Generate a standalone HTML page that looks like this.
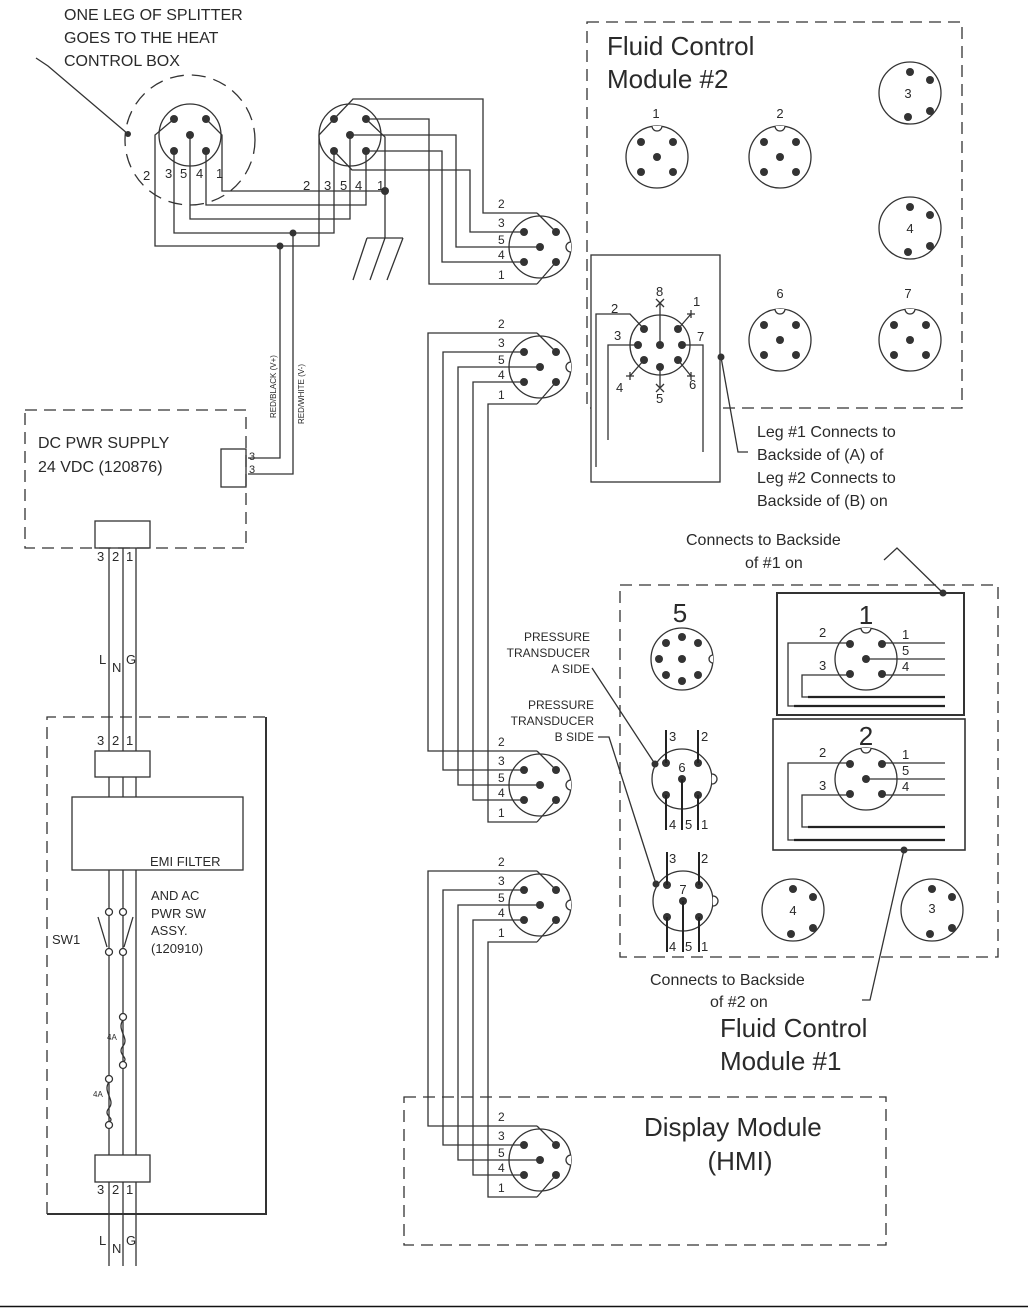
<!DOCTYPE html>
<html><head><meta charset="utf-8"><style>
html,body{margin:0;padding:0;background:#fff}
svg{display:block}
text{font-family:"Liberation Sans",sans-serif;fill:#2a2a2a}
</style></head><body>
<svg width="1028" height="1308" viewBox="0 0 1028 1308" xmlns="http://www.w3.org/2000/svg">
<defs>
<g id="sc">
<circle r="31" fill="none" stroke="#333" stroke-width="1.3"/>
<path d="M31,-5 A5,5 0 0 0 31,5" fill="#fff" stroke="#333" stroke-width="1.3"/>
<circle cx="-16" cy="-15" r="4" fill="#333"/><circle cx="16" cy="-15" r="4" fill="#333"/>
<circle cx="0" cy="0" r="4" fill="#333"/><circle cx="-16" cy="15" r="4" fill="#333"/><circle cx="16" cy="15" r="4" fill="#333"/>
<path d="M-3,-34 L16,-15 M-3,37 L16,15" stroke="#333" stroke-width="1.3" fill="none"/>
</g>
<g id="fc">
<circle r="31" fill="none" stroke="#333" stroke-width="1.3"/>
<path d="M-5,-31 A5,5 0 0 0 5,-31" fill="#fff" stroke="#333" stroke-width="1.3"/>
<circle cx="-16" cy="-15" r="4" fill="#333"/><circle cx="16" cy="-15" r="4" fill="#333"/>
<circle cx="0" cy="0" r="4" fill="#333"/><circle cx="-16" cy="15" r="4" fill="#333"/><circle cx="16" cy="15" r="4" fill="#333"/>
</g>
<g id="rc">
<circle r="31" fill="none" stroke="#333" stroke-width="1.3"/>
<circle cx="0" cy="-21" r="4" fill="#333"/><circle cx="20" cy="-13" r="4" fill="#333"/>
<circle cx="20" cy="18" r="4" fill="#333"/><circle cx="-2" cy="24" r="4" fill="#333"/>
</g>
<g id="tc">
<circle r="30" fill="none" stroke="#333" stroke-width="1.3"/>
<path d="M30,-5 A5,5 0 0 1 30,5" fill="#fff" stroke="#333" stroke-width="1.3"/>
<circle cx="-16" cy="-16" r="4" fill="#333"/><circle cx="16" cy="-16" r="4" fill="#333"/>
<circle cx="0" cy="0" r="4" fill="#333"/><circle cx="-16" cy="16" r="4" fill="#333"/><circle cx="16" cy="16" r="4" fill="#333"/>
<path d="M-16,-16 V-49 M16,-16 V-49 M-16,16 V51 M0,0 V51 M16,16 V51" stroke="#222" stroke-width="2" fill="none"/>
</g>
</defs>

<g stroke="#333" stroke-width="1.3" fill="none">
<circle cx="190" cy="135" r="31"/>
<circle cx="190" cy="140" r="65" stroke-dasharray="14 8"/>
<path d="M36,58 L48,66 L128,134"/>
<circle cx="350" cy="135" r="31"/>
<path d="M334,119 L319,135 V246 H155 V135 L174,119"/>
<path d="M334,151 V233 H174 V151"/>
<path d="M350,135 V219 H190 V135"/>
<path d="M366,151 V205 H206 V151"/>
<path d="M366,119 L385,137 V238"/>
<path d="M206,119 L222,135 V191 H385"/>
<path d="M367,238 H403 M367,238 L353,280 M385,238 L370,280 M403,238 L387,280"/>
<path d="M537,213 H483 V99 H353 L334,119"/>
<path d="M524,232 H470 V170 H352 L334,151"/>
<path d="M540,247 H456 V135 H350"/>
<path d="M524,262 H442 V151 H366"/>
<path d="M537,284 H429 V119 H366"/>
<path d="M280,246 V458 H248 M293,233 V474 H248"/>
<path d="M537,333 H428 V751 H537 M524,352 H443 V770 H524 M540,367 H458 V785 H540 M524,382 H473 V800 H524 M537,404 H488 V822 H537"/>
<path d="M537,871 H428 V1126 H537 M524,890 H443 V1145 H524 M540,905 H458 V1160 H540 M524,920 H473 V1175 H524 M537,942 H488 V1197 H537"/>

<rect x="25" y="410" width="221" height="138" stroke-dasharray="12 7"/>
<rect x="221" y="449" width="25" height="38"/>
<rect x="95" y="521" width="55" height="27"/>
<path d="M109,548 V1266 M123,548 V1266 M136,548 V1266"/>
<path d="M47,1214 V717 H266" stroke-dasharray="12 7"/>
<path d="M266,717 V1214 H47" stroke-width="2"/>
<rect x="95" y="751" width="55" height="26" fill="#fff"/>
<rect x="72" y="797" width="171" height="73" fill="#fff"/>
<rect x="95" y="1155" width="55" height="27" fill="#fff"/>
<path d="M98,917 L107,947 M133,917 L124,947"/>
<path d="M123,1020 C116,1030 130,1038 123,1046 C116,1054 130,1058 123,1062"/>
<path d="M109,1082 C102,1092 116,1100 109,1108 C102,1116 116,1118 109,1122"/>

<rect x="587" y="22" width="375" height="386" stroke-dasharray="12 7"/>
<rect x="591" y="255" width="129" height="227" fill="#fff"/>
<circle cx="660" cy="345" r="30"/>
<path d="M644,329 L630,314 H596 V467 M638,345 H608 V440 M682,345 H703 V452 M660,345 V303 M678,329 L691,314 M644,360 L630,376 M660,367 V388 M678,360 L691,376"/>
<path d="M656,299 L664,307 M664,299 L656,307 M656,384 L664,392 M664,384 L656,392 M687,314 H695 M691,310 V318 M626,376 H634 M630,372 V380 M687,376 H695 M691,372 V380"/>
<path d="M721,357 L738,452 H748"/>
<rect x="620" y="585" width="378" height="372" stroke-dasharray="12 7"/>
<rect x="777" y="593" width="187" height="122" stroke-width="2"/>
<rect x="773" y="719" width="192" height="131" stroke-width="1.6"/>
<path d="M883,643 H945 M866,659 H945 M883,675 H945 M850,643 H788 V706 H945 M850,675 H802 V697 H945"/>
<path d="M883,763 H945 M866,779 H945 M883,795 H945 M850,763 H788 V840 H945 M850,795 H802 V827 H945"/>
<path d="M943,593 L897,548 L884,560"/>
<path d="M904,850 L870,1000 H862"/>
<path d="M592,668 L655,764 M598,737 H609 L656,884"/>
<rect x="404" y="1097" width="482" height="148" stroke-dasharray="12 7"/>
</g>
<path d="M808,697 H945 M794,706 H945 M808,827 H945 M794,840 H945" stroke="#222" stroke-width="2.2"/>
<path d="M0,1306.5 H1028" stroke="#111" stroke-width="1.6"/>

<g fill="#333">
<circle cx="174" cy="119" r="4"/><circle cx="206" cy="119" r="4"/><circle cx="190" cy="135" r="4"/><circle cx="174" cy="151" r="4"/><circle cx="206" cy="151" r="4"/>
<circle cx="334" cy="119" r="4"/><circle cx="366" cy="119" r="4"/><circle cx="350" cy="135" r="4"/><circle cx="334" cy="151" r="4"/><circle cx="366" cy="151" r="4"/>
<circle cx="128" cy="134" r="3"/><circle cx="385" cy="191" r="4"/><circle cx="293" cy="233" r="3.5"/><circle cx="280" cy="246" r="3.5"/>
<circle cx="644" cy="329" r="4"/><circle cx="678" cy="329" r="4"/><circle cx="638" cy="345" r="4"/><circle cx="660" cy="345" r="4"/><circle cx="682" cy="345" r="4"/><circle cx="644" cy="360" r="4"/><circle cx="678" cy="360" r="4"/><circle cx="660" cy="367" r="4"/>
<circle cx="721" cy="357" r="3.5"/><circle cx="943" cy="593" r="3.5"/><circle cx="904" cy="850" r="3.5"/><circle cx="655" cy="764" r="3.5"/><circle cx="656" cy="884" r="3.5"/>
<circle cx="682" cy="637" r="4"/><circle cx="666" cy="643" r="4"/><circle cx="698" cy="643" r="4"/><circle cx="659" cy="659" r="4"/><circle cx="682" cy="659" r="4"/><circle cx="666" cy="675" r="4"/><circle cx="698" cy="675" r="4"/><circle cx="682" cy="681" r="4"/>
</g>
<g fill="#fff" stroke="#333" stroke-width="1.3">
<circle cx="109" cy="912" r="3.5"/><circle cx="123" cy="912" r="3.5"/><circle cx="109" cy="952" r="3.5"/><circle cx="123" cy="952" r="3.5"/>
<circle cx="123" cy="1017" r="3.5"/><circle cx="123" cy="1065" r="3.5"/><circle cx="109" cy="1079" r="3.5"/><circle cx="109" cy="1125" r="3.5"/>
</g>
<circle cx="682" cy="659" r="31" fill="none" stroke="#333" stroke-width="1.3"/>
<path d="M713,655 A4,4 0 0 0 713,663" fill="#fff" stroke="#333" stroke-width="1.3"/>

<use href="#sc" x="540" y="247"/><use href="#sc" x="540" y="367"/><use href="#sc" x="540" y="785"/><use href="#sc" x="540" y="905"/><use href="#sc" x="540" y="1160"/>
<use href="#fc" x="657" y="157"/><use href="#fc" x="780" y="157"/><use href="#fc" x="780" y="340"/><use href="#fc" x="910" y="340"/>
<use href="#fc" x="866" y="659"/><use href="#fc" x="866" y="779"/>
<use href="#rc" x="910" y="93"/><use href="#rc" x="910" y="228"/><use href="#rc" x="793" y="910"/><use href="#rc" x="932" y="910"/>
<use href="#tc" x="682" y="779"/><use href="#tc" x="683" y="901"/>

<g font-size="16">
<text x="64" y="20">ONE LEG OF SPLITTER</text>
<text x="64" y="43">GOES TO THE HEAT</text>
<text x="64" y="66">CONTROL BOX</text>
<text x="38" y="448">DC PWR SUPPLY</text>
<text x="38" y="472">24 VDC (120876)</text>
<text x="757" y="437">Leg #1 Connects to</text>
<text x="757" y="460">Backside of (A) of</text>
<text x="757" y="483">Leg #2 Connects to</text>
<text x="757" y="506">Backside of (B) on</text>
<text x="686" y="545">Connects to Backside</text>
<text x="745" y="568">of #1 on</text>
<text x="650" y="985">Connects to Backside</text>
<text x="710" y="1007">of #2 on</text>
</g>
<g font-size="26">
<text x="607" y="55">Fluid Control</text>
<text x="607" y="88">Module #2</text>
<text x="720" y="1037">Fluid Control</text>
<text x="720" y="1070">Module #1</text>
<text x="644" y="1136">Display Module</text>
<text x="740" y="1170" text-anchor="middle">(HMI)</text>
<text x="680" y="622" text-anchor="middle">5</text>
<text x="866" y="624" text-anchor="middle">1</text>
<text x="866" y="745" text-anchor="middle">2</text>
</g>
<g font-size="13">
<text x="143" y="180">2</text><text x="165" y="178">3</text><text x="180" y="178">5</text><text x="196" y="178">4</text><text x="216" y="178">1</text>
<text x="303" y="190">2</text><text x="324" y="190">3</text><text x="340" y="190">5</text><text x="355" y="190">4</text><text x="377" y="190">1</text>
<text x="97" y="561">3</text><text x="112" y="561">2</text><text x="126" y="561">1</text>
<text x="97" y="745">3</text><text x="112" y="745">2</text><text x="126" y="745">1</text>
<text x="97" y="1194">3</text><text x="112" y="1194">2</text><text x="126" y="1194">1</text>
<text x="99" y="664">L</text><text x="112" y="672">N</text><text x="126" y="664">G</text>
<text x="99" y="1245">L</text><text x="112" y="1253">N</text><text x="126" y="1245">G</text>
<text x="150" y="866">EMI FILTER</text>
<text x="151" y="900">AND AC</text><text x="151" y="918">PWR SW</text><text x="151" y="935">ASSY.</text><text x="151" y="953">(120910)</text>
<text x="52" y="944">SW1</text>
<text x="249" y="460" font-size="11">3</text><text x="249" y="473" font-size="11">3</text>
<text x="611" y="313">2</text><text x="614" y="340">3</text><text x="656" y="296">8</text><text x="693" y="306">1</text><text x="697" y="341">7</text><text x="616" y="392">4</text><text x="656" y="403">5</text><text x="689" y="389">6</text>
<text x="656" y="118" text-anchor="middle">1</text><text x="780" y="118" text-anchor="middle">2</text>
<text x="780" y="298" text-anchor="middle">6</text><text x="908" y="298" text-anchor="middle">7</text>
<text x="908" y="98" text-anchor="middle">3</text><text x="910" y="233" text-anchor="middle">4</text>
<text x="793" y="915" text-anchor="middle">4</text><text x="932" y="913" text-anchor="middle">3</text>
<text x="682" y="772" text-anchor="middle">6</text><text x="683" y="894" text-anchor="middle">7</text>
<text x="669" y="741">3</text><text x="701" y="741">2</text><text x="669" y="829">4</text><text x="685" y="829">5</text><text x="701" y="829">1</text>
<text x="669" y="863">3</text><text x="701" y="863">2</text><text x="669" y="951">4</text><text x="685" y="951">5</text><text x="701" y="951">1</text>
<text x="819" y="637">2</text><text x="819" y="670">3</text><text x="902" y="639">1</text><text x="902" y="655">5</text><text x="902" y="671">4</text>
<text x="819" y="757">2</text><text x="819" y="790">3</text><text x="902" y="759">1</text><text x="902" y="775">5</text><text x="902" y="791">4</text>
</g>
<g font-size="12">
<text x="498" y="208">2</text><text x="498" y="227">3</text><text x="498" y="244">5</text><text x="498" y="259">4</text><text x="498" y="279">1</text>
<text x="498" y="328">2</text><text x="498" y="347">3</text><text x="498" y="364">5</text><text x="498" y="379">4</text><text x="498" y="399">1</text>
<text x="498" y="746">2</text><text x="498" y="765">3</text><text x="498" y="782">5</text><text x="498" y="797">4</text><text x="498" y="817">1</text>
<text x="498" y="866">2</text><text x="498" y="885">3</text><text x="498" y="902">5</text><text x="498" y="917">4</text><text x="498" y="937">1</text>
<text x="498" y="1121">2</text><text x="498" y="1140">3</text><text x="498" y="1157">5</text><text x="498" y="1172">4</text><text x="498" y="1192">1</text>
<g text-anchor="end">
<text x="590" y="641">PRESSURE</text><text x="590" y="657">TRANSDUCER</text><text x="590" y="673">A SIDE</text>
<text x="594" y="709">PRESSURE</text><text x="594" y="725">TRANSDUCER</text><text x="594" y="741">B SIDE</text>
</g>
</g>
<g font-size="8">
<text x="107" y="1040">4A</text><text x="93" y="1097">4A</text>
<text transform="translate(276,418) rotate(-90)">RED/BLACK (V+)</text>
<text transform="translate(304,424) rotate(-90)">RED/WHITE (V-)</text>
</g>
</svg>
</body></html>
